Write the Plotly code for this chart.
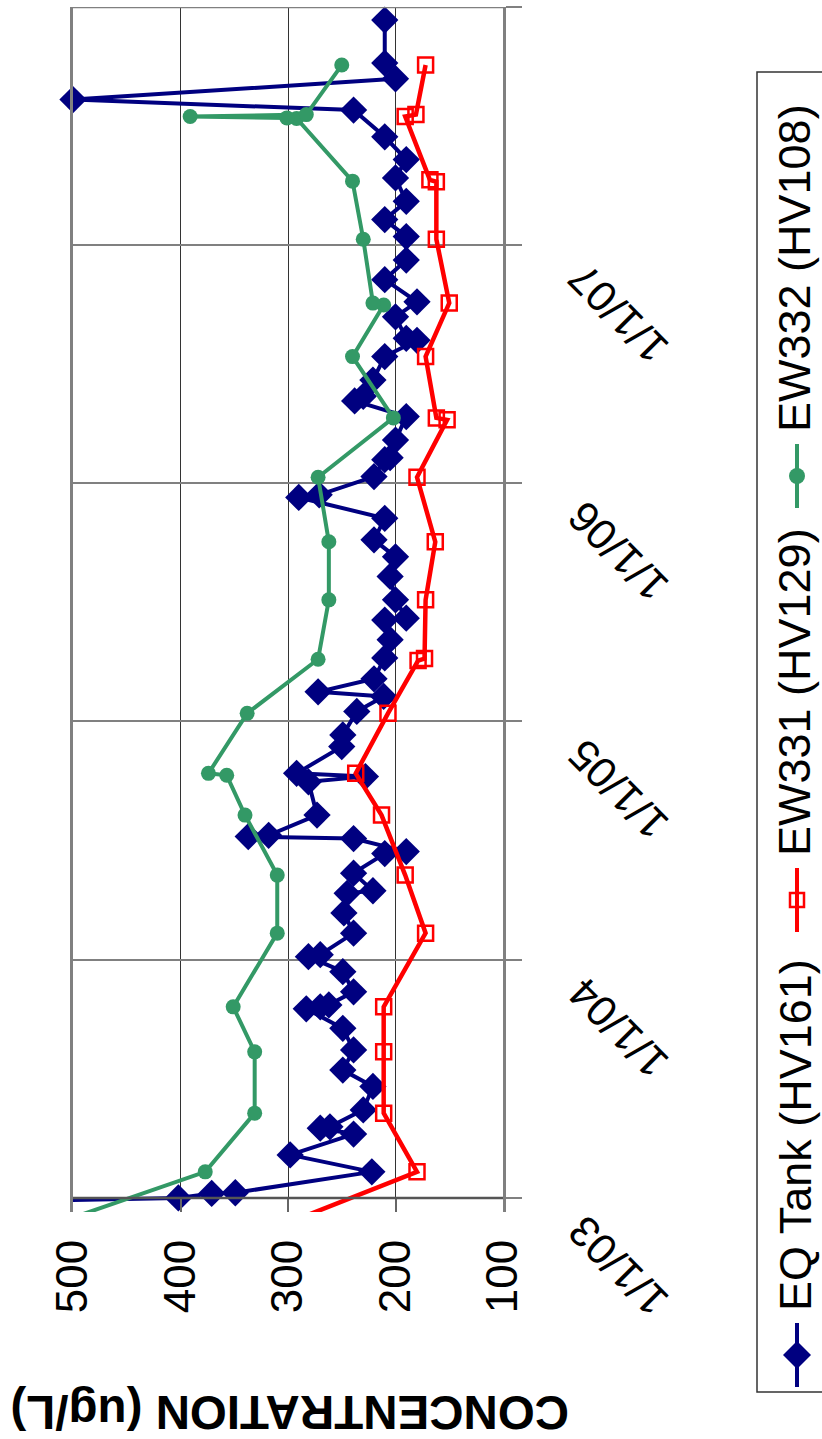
import plotly.graph_objects as go

# ---- data -------------------------------------------------------------
# EQ Tank (HV161)
eq_dates = [
    "2002-12-20", "2003-01-01", "2003-01-08", "2003-01-09", "2003-02-10",
    "2003-03-08", "2003-04-09", "2003-04-18", "2003-04-20", "2003-05-16",
    "2003-06-21", "2003-07-16", "2003-08-16", "2003-09-18", "2003-10-18",
    "2003-10-21", "2003-10-24", "2003-11-13", "2003-12-14", "2004-01-06",
    "2004-01-09", "2004-02-11", "2004-03-13", "2004-04-12", "2004-04-16",
    "2004-05-13", "2004-06-12", "2004-06-15", "2004-07-05", "2004-07-08",
    "2004-07-10", "2004-08-10", "2004-09-30", "2004-10-08", "2004-10-13",
    "2004-11-23", "2004-12-11", "2005-01-16", "2005-02-08", "2005-02-15",
    "2005-03-07", "2005-04-08", "2005-05-06", "2005-06-05", "2005-06-08",
    "2005-07-06", "2005-08-11", "2005-09-10", "2005-10-06", "2005-11-08",
    "2005-12-10", "2005-12-14", "2006-01-11", "2006-02-06", "2006-02-09",
    "2006-03-08", "2006-04-13", "2006-05-07", "2006-05-14", "2006-06-08",
    "2006-07-14", "2006-08-08", "2006-08-11", "2006-09-13", "2006-10-06",
    "2006-11-09", "2006-12-09", "2007-01-14", "2007-02-09", "2007-03-09",
    "2007-04-14", "2007-05-12", "2007-06-16", "2007-07-27", "2007-08-12",
    "2007-09-13", "2007-10-07", "2007-12-12",
]
eq_conc = [
    790, 402, 371, 349, 222,
    298, 239, 270, 261, 230,
    221, 249, 239, 249, 283,
    270, 262, 239, 249, 281,
    270, 239, 248, 245, 221,
    239, 210, 190, 239, 337,
    318, 273, 281, 228, 292,
    250, 249, 236, 211, 272,
    220, 210, 205, 210, 190,
    200, 205, 200, 220, 210,
    290, 271, 220, 210, 205,
    200, 190, 238, 230, 221,
    210, 180, 190, 200, 180,
    210, 190, 190, 210, 190,
    200, 190, 210, 239, 500,
    200, 210, 210,
]

# EW331 (HV129)
ew331_dates = [
    "2002-11-20", "2003-02-10", "2003-05-11", "2003-08-13", "2003-10-21",
    "2004-02-11", "2004-05-10", "2004-08-10", "2004-10-13", "2005-01-13",
    "2005-04-04", "2005-04-07", "2005-07-06", "2005-10-03", "2006-01-10",
    "2006-04-08", "2006-04-11", "2006-07-14", "2006-10-04", "2007-01-10",
    "2007-04-08", "2007-04-11", "2007-07-17", "2007-07-20", "2007-10-04",
]
ew331_conc = [
    306, 180, 211, 211, 211,
    172, 191, 213, 237, 207,
    179, 173, 172, 163, 180,
    152, 162, 172, 150, 162,
    162, 168, 191, 181, 172,
]

# EW332 (HV108)
ew332_dates = [
    "2002-11-20", "2003-02-10", "2003-05-11", "2003-08-13", "2003-10-21",
    "2004-02-11", "2004-05-10", "2004-08-10", "2004-10-10", "2004-10-13",
    "2005-01-13", "2005-04-06", "2005-07-06", "2005-10-03", "2006-01-10",
    "2006-04-11", "2006-07-14", "2006-10-01", "2006-10-04", "2007-01-10",
    "2007-04-09", "2007-07-14", "2007-07-15", "2007-07-17", "2007-07-20",
    "2007-10-04",
]
ew332_conc = [
    521, 377, 331, 331, 351,
    310, 310, 340, 357, 374,
    338, 272, 262, 262, 272,
    202, 240, 211, 221, 230,
    240, 292, 301, 391, 283,
    250,
]

conc_ticks = [100, 200, 300, 400, 500]
year_ticks = ["2003-01-01", "2004-01-01", "2005-01-01", "2006-01-01",
              "2007-01-01", "2008-01-01"]
year_labels = ["1/1/03", "1/1/04", "1/1/05", "1/1/06", "1/1/07"]

series_names = ["EQ Tank (HV161)", "EW331 (HV129)", "EW332 (HV108)"]

NAVY = "#000080"
RED = "#FF0000"
GREEN = "#339966"
FONT = "Liberation Sans, Arial, sans-serif"

# ---- page geometry ----------------------------------------------------
W, H = 822, 1439
ML, MR, MT, MB = 73, 319, 7, 227
PW = W - ML - MR
PH = H - MT - MB


def px_x(p):
    return (p - ML) / PW


def px_y(p):
    return (H - MB - p) / PH


def visible(dates):
    # markers are only drawn for samples inside the charted period
    return [1 if d >= "2003-01-01" else 0 for d in dates]


fig = go.Figure()

fig.add_trace(go.Scatter(
    x=eq_conc, y=eq_dates, mode="lines+markers", name=series_names[0],
    line=dict(color=NAVY, width=4),
    marker=dict(symbol="diamond", size=21, color=NAVY,
                opacity=visible(eq_dates)),
    cliponaxis=False,
))
fig.add_trace(go.Scatter(
    x=ew331_conc, y=ew331_dates, mode="lines+markers", name=series_names[1],
    line=dict(color=RED, width=4.5),
    marker=dict(symbol="square-open", size=15, color=RED,
                line=dict(width=2.5, color=RED),
                opacity=visible(ew331_dates)),
    cliponaxis=False,
))
fig.add_trace(go.Scatter(
    x=ew332_conc, y=ew332_dates, mode="lines+markers", name=series_names[2],
    line=dict(color=GREEN, width=4),
    marker=dict(symbol="circle", size=15, color=GREEN,
                opacity=visible(ew332_dates)),
    cliponaxis=False,
))

fig.update_layout(
    width=W, height=H,
    margin=dict(l=ML, r=MR, t=MT, b=MB),
    paper_bgcolor="white", plot_bgcolor="white",
    showlegend=False,
    font=dict(family=FONT, color="black"),
)

fig.update_xaxes(
    range=[500, 100], tickvals=conc_ticks,
    ticks="inside", ticklen=14, tickwidth=1.5, tickcolor="#666666",
    showgrid=True, gridcolor="#333333", gridwidth=1,
    tickangle=-90, tickfont=dict(size=44, family=FONT),
    ticklabelstandoff=18,
    showline=False, zeroline=False,
)
fig.update_yaxes(
    type="date", range=["2002-12-10 11:00", "2008-01-01"],
    tickvals=year_ticks, showticklabels=False,
    ticks="outside", ticklen=16, tickwidth=1.5, tickcolor="#808080",
    side="right",
    showgrid=True, gridcolor="#808080", gridwidth=1.5,
    showline=True, mirror=True, linecolor="#808080", linewidth=2.5,
    zeroline=False,
)

shapes = [
    # top and bottom edges of the frame
    dict(type="line", xref="paper", yref="y", x0=0, x1=1,
         y0=year_ticks[-1], y1=year_ticks[-1],
         line=dict(color="#808080", width=2.5)),
    dict(type="line", xref="paper", yref="y", x0=0, x1=1,
         y0=year_ticks[0], y1=year_ticks[0],
         line=dict(color="#555555", width=2.5)),
    # legend box
    dict(type="rect", xref="paper", yref="paper",
         x0=px_x(757), x1=px_x(860), y0=px_y(1392), y1=px_y(72),
         line=dict(color="#333333", width=1.5), fillcolor="rgba(0,0,0,0)"),
]

annotations = []

# date labels, slanted, beside the right axis
for d, lab in zip(year_ticks, year_labels):
    annotations.append(dict(
        x=1, xref="paper", y=d, yref="y", xshift=115, yshift=-68,
        text=lab, showarrow=False, textangle=-135,
        xanchor="center", yanchor="middle",
        font=dict(size=43, family=FONT, color="black"),
    ))

# concentration axis title
annotations.append(dict(
    x=px_x(290), y=px_y(1413), xref="paper", yref="paper",
    text="<b>CONCENTRATION (ug/L)</b>", showarrow=False, textangle=180,
    xanchor="center", yanchor="middle",
    font=dict(size=47.5, family=FONT, color="black"),
))

# legend entries: marker glyph then label, reading upwards
LEG_X = 797
legend_items = [
    (series_names[0], NAVY, "diamond", 1355),
    (series_names[1], RED, "square", 900),
    (series_names[2], GREEN, "circle", 476),
]
for name, col, sym, cy in legend_items:
    shapes.append(dict(type="line", xref="paper", yref="paper",
                       x0=px_x(LEG_X), x1=px_x(LEG_X),
                       y0=px_y(cy + 32), y1=px_y(cy - 32),
                       line=dict(color=col, width=4)))
    anchor = dict(xref="paper", yref="paper", xsizemode="pixel",
                  ysizemode="pixel", xanchor=px_x(LEG_X), yanchor=px_y(cy))
    if sym == "diamond":
        shapes.append(dict(type="path", path="M -14 0 L 0 14 L 14 0 L 0 -14 Z",
                           fillcolor=col, line=dict(width=0), **anchor))
    elif sym == "square":
        shapes.append(dict(type="rect", x0=-7, x1=7, y0=-7, y1=7,
                           fillcolor="rgba(0,0,0,0)",
                           line=dict(color=col, width=2.5), **anchor))
    else:
        shapes.append(dict(type="circle", x0=-8, x1=8, y0=-8, y1=8,
                           fillcolor=col, line=dict(width=0), **anchor))
    annotations.append(dict(
        x=px_x(795), y=px_y(cy - 42), xref="paper", yref="paper",
        text=name, showarrow=False, textangle=-90,
        xanchor="center", yanchor="bottom",
        font=dict(size=45, family=FONT, color="black"),
    ))

fig.update_layout(shapes=shapes, annotations=annotations)

fig.write_html("out.html")
